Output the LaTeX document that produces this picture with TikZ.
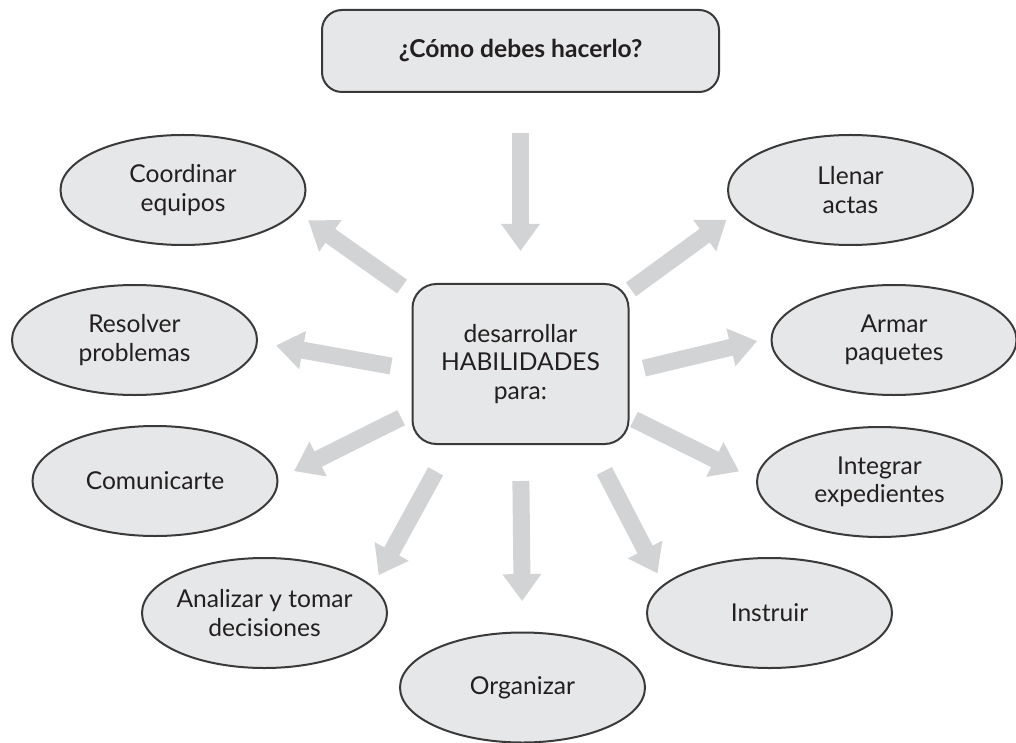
\documentclass[tikz,border=0pt]{standalone}
\usepackage{fontspec}
\setmainfont{Lato}
\usetikzlibrary{arrows.meta,shapes.geometric}
\definecolor{fondo}{HTML}{E6E7E8}
\definecolor{borde}{HTML}{3A3A3A}
\definecolor{flecha}{HTML}{D1D3D4}
\definecolor{texto}{HTML}{231F20}
\tikzset{
  hd/.style={rectangle,rounded corners=5mm,draw=borde,fill=fondo,line width=.5mm,
    minimum width=99.25mm,minimum height=20.5mm,text=texto,
    font=\fontsize{17.5}{20}\selectfont\bfseries},
  cx/.style={rectangle,rounded corners=6mm,draw=borde,fill=fondo,line width=.5mm,
    minimum width=54mm,minimum height=40mm,align=center,text=texto,
    font=\fontsize{17.5}{20}\selectfont},
  % the text may run wider than the oval, so the inner sep is pulled in
  ov/.style={ellipse,draw=borde,fill=fondo,line width=.5mm,
    minimum width=61.25mm,minimum height=27.5mm,inner xsep=-8mm,inner ysep=0pt,
    align=center,text=texto,font=\fontsize{17.5}{20}\selectfont},
  fl/.style={draw=flecha,line width=4.25mm,-{Triangle[length=6.75mm,width=9.25mm]}},
}
\begin{document}
\begin{tikzpicture}[x=0.25mm,y=-0.25mm]
\useasboundingbox (0,0) rectangle (1016,743);
\node[hd] (q) at (520.5,51) {¿Cómo debes hacerlo?};
\node[cx] (h) at (520.5,364) {desarrollar\\HABILIDADES\\para:};

\node[ov] (co) at (183,190) {Coordinar\\equipos};
\node[ov] (ll) at (850.5,190) {Llenar\\actas};
\node[ov] (re) at (134.5,340) {Resolver\\problemas};
\node[ov] (ar) at (894,340) {Armar\\paquetes};
\node[ov] (cm) at (155,481) {Comunicarte};
\node[ov] (ig) at (879.5,482) {Integrar\\expedientes};
\node[ov] (an) at (264.5,613) {Analizar y tomar\\decisiones};
\node[ov] (in) at (769.5,613) {Instruir};
\node[ov] (og) at (522.5,687.5) {Organizar};

\draw[fl,shorten <=10mm,shorten >=8mm] (q.south) -- (h.north);
\draw[fl,shorten <=2.9mm,shorten >=3.6mm] (h.147.7) -- (co.349.2);
\draw[fl,shorten <=0.45mm,shorten >=3.25mm] (h.34) -- (ll.191.3);
\draw[fl,shorten <=5.2mm,shorten >=4.6mm] (h.183) -- (re.359.2);
\draw[fl,shorten <=2.9mm,shorten >=4.35mm] (h.204.9) -- (cm.1.7);
\draw[fl,shorten <=3.7mm,shorten >=3.45mm] (h.356.1) -- (ar.179.5);
\draw[fl,shorten <=1.25mm,shorten >=4.75mm] (h.334.4) -- (ig.179.3);
\draw[fl,shorten <=7.5mm,shorten >=3.1mm] (h.229.4) -- (an.14.4);
\draw[fl,shorten <=9mm,shorten >=7.6mm] (h.south) -- (og.north);
\draw[fl,shorten <=7.3mm,shorten >=3.1mm] (h.311.35) -- (in.165.9);
\end{tikzpicture}
\end{document}
